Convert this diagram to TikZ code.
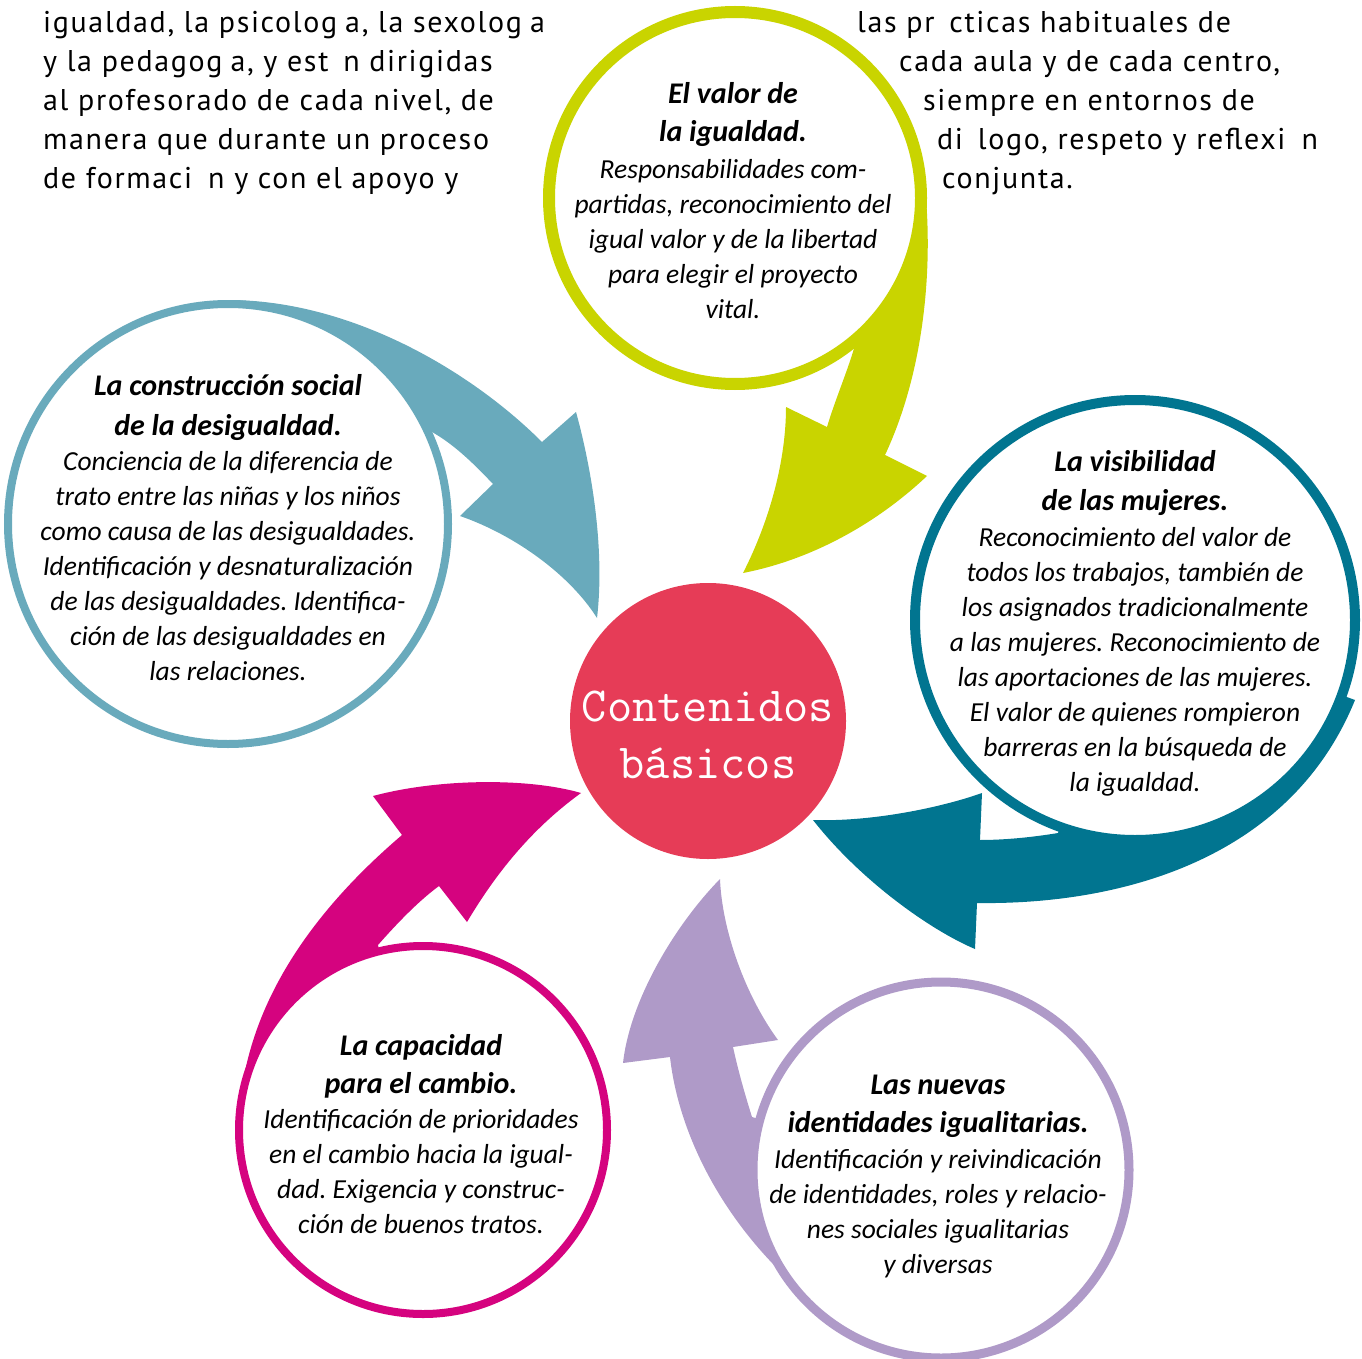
\documentclass[tikz,border=0pt]{standalone}
\usepackage{fontspec}
\setmainfont{Carlito}
\newfontfamily\leadfont[LetterSpace=5.5]{PT Sans}
\definecolor{cLime}{HTML}{C9D400}
\definecolor{cSky}{HTML}{69AABC}
\definecolor{cPetrol}{HTML}{017590}
\definecolor{cBerry}{HTML}{D5037F}
\definecolor{cLilac}{HTML}{AF9AC8}
\definecolor{cCore}{HTML}{E63C57}
\tikzset{
  ring/.style={circle, draw=#1, fill=white, inner sep=0pt},
  blockarrow/.style={fill=#1, draw=none},
  topic/.style={align=center, font=\fontsize{27.5}{35}\selectfont\itshape, inner sep=0pt},
  lead/.style={anchor=base west, inner sep=0pt, font=\leadfont\fontsize{30}{39}\selectfont},
}
\newcommand{\ttl}[1]{\textbf{\fontsize{30}{35}\selectfont #1}}
\newcommand{\gap}[1]{\hphantom{#1}}
\frenchspacing
\begin{document}
\begin{tikzpicture}[x=1pt,y=-1pt]
\useasboundingbox (0,0) rectangle (1362,1359);

% running text at the top
\node[lead] (l1) at (43,33) {igualdad, la psicolog\gap{í}a, la sexolog\gap{í}a};
\node[lead] (l2) at (43,72) {y la pedagog\gap{í}a, y est\gap{á}n dirigidas};
\node[lead] (l3) at (43,111) {al profesorado de cada nivel, de};
\node[lead] (l4) at (43,150) {manera que durante un proceso};
\node[lead] (l5) at (43,189) {de formaci\gap{ó}n y con el apoyo y};
\node[lead] (r1) at (857,33) {las pr\gap{á}cticas habituales de};
\node[lead] (r2) at (899,72) {cada aula y de cada centro,};
\node[lead] (r3) at (923,111) {siempre en entornos de};
\node[lead] (r4) at (937,150) {di\gap{á}logo, respeto y reflexi\gap{ó}n};
\node[lead] (r5) at (942,189) {conjunta.};

% curved block arrows, each growing out of its circle
\fill[blockarrow=cSky] (228,300) .. controls (350,300) and (470,370) .. (542,442)
  -- (576,412) .. controls (592,470) and (605,550) .. (597,618)
  .. controls (570,575) and (515,535) .. (460,516)
  -- (493,484) .. controls (475,465) and (455,445) .. (432,432)
  -- (228,524) -- cycle;
\fill[blockarrow=cLime] (923,170) .. controls (935,260) and (925,370) .. (885,455)
  -- (927,476) .. controls (875,525) and (810,560) .. (743,573)
  .. controls (770,520) and (786,460) .. (786,407)
  -- (827,427) .. controls (835,400) and (848,370) .. (855,345)
  -- (735,198) -- cycle;
\fill[blockarrow=cPetrol] (1355,700) .. controls (1290,860) and (1120,905) .. (977,903)
  -- (975,949) .. controls (930,930) and (860,880) .. (813,820)
  .. controls (870,822) and (940,808) .. (982,793)
  -- (980,840) .. controls (1010,840) and (1040,836) .. (1058,833)
  -- (1135,620) -- cycle;
\fill[blockarrow=cLilac] (941,1170) -- (752,1117) .. controls (742,1085) and (737,1065) .. (733,1047)
  -- (778,1040) .. controls (745,995) and (722,930) .. (720,879)
  .. controls (675,925) and (630,1000) .. (623,1063)
  -- (670,1057) .. controls (685,1190) and (800,1330) .. (941,1365)
  -- cycle;
\fill[blockarrow=cBerry] (423,1130) -- (378,945) .. controls (400,920) and (420,900) .. (439,886)
  -- (467,922) .. controls (495,875) and (530,830) .. (581,793)
  .. controls (530,778) and (440,778) .. (373,796)
  -- (402,835) .. controls (320,905) and (250,995) .. (240,1105)
  -- cycle;

% the five topic circles
\node[ring=cLime, line width=12pt, minimum size=372pt] (valor) at (735,198) {};
\node[ring=cSky, line width=8pt, minimum size=440pt] (construccion) at (228,524) {};
\node[ring=cPetrol, line width=10pt, minimum size=440pt] (visibilidad) at (1135,620) {};
\node[ring=cBerry, line width=8pt, minimum size=368pt] (capacidad) at (423,1130) {};
\node[ring=cLilac, line width=9pt, minimum size=376pt] (identidades) at (941,1170) {};

% centre
\node[circle, fill=cCore, minimum size=276pt, inner sep=0pt] (centro) at (708,721) {};
\node[align=center, text=white, inner sep=0pt, font=\ttfamily\fontsize{49}{57}\selectfont] (centrotxt) at (708,735) {Contenidos\\básicos};

% texts inside the circles
\node[topic] (tvalor) at (733,201) {\ttl{El valor de}\\[3pt]\ttl{la igualdad.}\\[2pt]
  Responsabilidades com-\\partidas, reconocimiento del\\igual valor y de la libertad\\para elegir el proyecto\\vital.};
\node[topic] (tconstruccion) at (228,528) {\ttl{La construcción social}\\[5pt]\ttl{de la desigualdad.}\\
  Conciencia de la diferencia de\\trato entre las niñas y los niños\\como causa de las desigualdades.\\Identificación y desnaturalización\\de las desigualdades. Identifica-\\ción de las desigualdades en\\las relaciones.};
\node[topic] (tvisibilidad) at (1135,623) {\ttl{La visibilidad}\\[4pt]\ttl{de las mujeres.}\\[1pt]
  Reconocimiento del valor de\\todos los trabajos, también de\\los asignados tradicionalmente\\a las mujeres. Reconocimiento de\\las aportaciones de las mujeres.\\El valor de quienes rompieron\\barreras en la búsqueda de\\la igualdad.};
\node[topic] (tcapacidad) at (421,1134) {\ttl{La capacidad}\\[3pt]\ttl{para el cambio.}\\
  Identificación de prioridades\\en el cambio hacia la igual-\\dad. Exigencia y construc-\\ción de buenos tratos.};
\node[topic] (tidentidades) at (938,1176) {\ttl{Las nuevas}\\[3pt]\ttl{identidades igualitarias.}\\[1pt]
  Identificación y reivindicación\\de identidades, roles y relacio-\\nes sociales igualitarias\\y diversas};
\end{tikzpicture}
\end{document}
